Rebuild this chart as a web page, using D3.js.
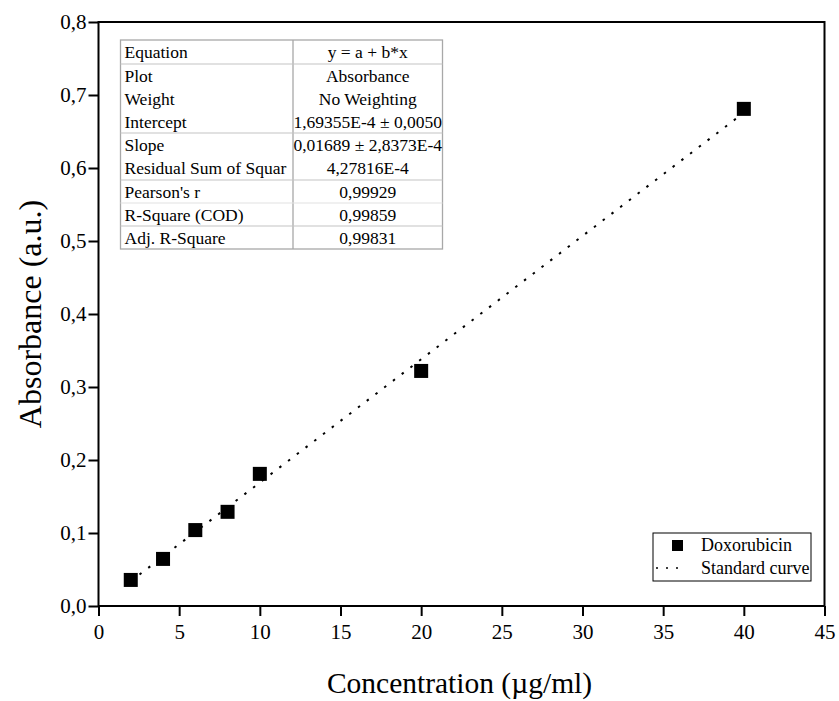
<!DOCTYPE html>
<html>
<head>
<meta charset="utf-8">
<script src="https://cdn.jsdelivr.net/npm/d3@7"></script>
<style>
  body { margin: 0; background: #fff; }
  text { font-family: 'Liberation Serif', 'Times New Roman', serif; fill: #000; }
</style>
</head>
<body>
<div id="chart"></div>
<script>
// measured concentrations and absorbances
var concentration = [2, 4, 6, 8, 10, 20, 40];
var absorbance = [0.0357, 0.0645, 0.104, 0.129, 0.181, 0.322, 0.681];

// linear fit parameters (from the table)
var intercept = 1.69355e-4;
var slope = 0.01689;

var xTicks = [0, 5, 10, 15, 20, 25, 30, 35, 40, 45];
var yTicks = [0, 0.1, 0.2, 0.3, 0.4, 0.5, 0.6, 0.7, 0.8];

var tableLabels = ["Equation", "Plot", "Weight", "Intercept", "Slope", "Residual Sum of Squar", "Pearson's r", "R-Square (COD)", "Adj. R-Square"];
var tableValues = ["y = a + b*x", "Absorbance", "No Weighting", "1,69355E-4 \u00b1 0,0050", "0,01689 \u00b1 2,8373E-4", "4,27816E-4", "0,99929", "0,99859", "0,99831"];

var W = 839, H = 701;
var serif = "'Liberation Serif', 'Times New Roman', serif";
var margin = {top: 22, right: 15, bottom: 95, left: 98.5};
var width = 824.5 - margin.left;
var height = 606 - margin.top;

var svg = d3.select("#chart").append("svg")
    .attr("width", W).attr("height", H)
  .append("g")
    .attr("transform", "translate(" + margin.left + "," + margin.top + ")");

var x = d3.scaleLinear().domain([0, 45]).range([0, width]);
var y = d3.scaleLinear().domain([0, 0.8]).range([height, 0]);

var comma = function(d) { return d3.format(".1f")(d).replace(".", ","); };

// frame
svg.append("rect")
    .attr("x", 0).attr("y", 0)
    .attr("width", width).attr("height", height)
    .attr("fill", "none").attr("stroke", "#000").attr("stroke-width", 2);

var xAxis = svg.append("g")
    .attr("transform", "translate(0," + height + ")")
    .call(d3.axisBottom(x).tickValues(xTicks).tickSize(10).tickPadding(8))
    .attr("font-family", serif).attr("font-size", 21);
xAxis.select(".domain").remove();
xAxis.selectAll("line").attr("stroke-width", 2);

var yAxis = svg.append("g")
    .call(d3.axisLeft(y).tickValues(yTicks).tickFormat(comma).tickSize(10).tickPadding(2))
    .attr("font-family", serif).attr("font-size", 21);
yAxis.select(".domain").remove();
yAxis.selectAll("line").attr("stroke-width", 2);

// axis titles
svg.append("text")
    .attr("x", width / 2 - 2).attr("y", height + 87)
    .attr("text-anchor", "middle")
    .style("font-size", "29.5px")
    .text("Concentration (\u00b5g/ml)");

svg.append("text")
    .attr("transform", "translate(" + (-58) + "," + (height / 2) + ") rotate(-90)")
    .attr("text-anchor", "middle")
    .style("font-size", "32px")
    .text("Absorbance (a.u.)");

// fit line
var x0 = d3.min(concentration), x1 = d3.max(concentration);
svg.append("line")
    .attr("x1", x(x0)).attr("y1", y(intercept + slope * x0))
    .attr("x2", x(x1)).attr("y2", y(intercept + slope * x1))
    .attr("stroke", "#000").attr("stroke-width", 2)
    .attr("stroke-dasharray", "2.5,8.5");

// points
var pts = concentration.map(function(c, i) { return {c: c, a: absorbance[i]}; });
var sq = 14;
svg.selectAll(".pt").data(pts).enter().append("rect")
    .attr("class", "pt")
    .attr("x", function(d) { return x(d.c) - sq / 2; })
    .attr("y", function(d) { return y(d.a) - sq / 2; })
    .attr("width", sq).attr("height", sq)
    .attr("fill", "#000");

// fit results table
var tab = svg.append("g").attr("transform", "translate(" + (120.5 - margin.left) + "," + (40 - margin.top) + ")");
var tw = 322, colX = 172.5;
var rowTop = [0, 24, 47, 70, 93, 116, 140, 163, 186];
var tableH = 209;
// lines between row groups
var groupLines = [24, 93, 140, 163, 186];
tab.append("rect").attr("width", tw).attr("height", tableH)
    .attr("fill", "#fff").attr("stroke", "#a8a8a8").attr("stroke-width", 1.3);
tab.append("line").attr("x1", colX).attr("x2", colX).attr("y1", 0).attr("y2", tableH)
    .attr("stroke", "#a8a8a8").attr("stroke-width", 1.3);
tab.selectAll(".gl").data(groupLines).enter().append("line")
    .attr("x1", 0).attr("x2", tw)
    .attr("y1", function(d) { return d; }).attr("y2", function(d) { return d; })
    .attr("stroke", function(d) { return d == 163 ? "#e2e2e2" : "#c4c4c4"; })
    .attr("stroke-width", 1.2);
tab.selectAll(".tl").data(tableLabels).enter().append("text")
    .attr("x", 4)
    .attr("y", function(d, i) { return rowTop[i] + 17.5; })
    .style("font-size", "17.5px")
    .text(function(d) { return d; });
tab.selectAll(".tv").data(tableValues).enter().append("text")
    .attr("x", (colX + tw) / 2)
    .attr("y", function(d, i) { return rowTop[i] + 17.5; })
    .attr("text-anchor", "middle")
    .style("font-size", "17.5px")
    .text(function(d) { return d; });

// legend
var leg = svg.append("g").attr("transform", "translate(" + (653 - margin.left) + "," + (533 - margin.top) + ")");
leg.append("rect").attr("width", 158).attr("height", 48)
    .attr("fill", "#fff").attr("stroke", "#000").attr("stroke-width", 1);
leg.append("rect").attr("x", 19).attr("y", 7).attr("width", 11).attr("height", 11).attr("fill", "#000");
leg.append("text").attr("x", 48).attr("y", 18).style("font-size", "18px").text("Doxorubicin");
leg.append("line").attr("x1", 3).attr("x2", 33).attr("y1", 35).attr("y2", 35)
    .attr("stroke", "#000").attr("stroke-width", 1.5).attr("stroke-dasharray", "2,8");
leg.append("text").attr("x", 48).attr("y", 41).style("font-size", "18px").text("Standard curve");
</script>
</body>
</html>
